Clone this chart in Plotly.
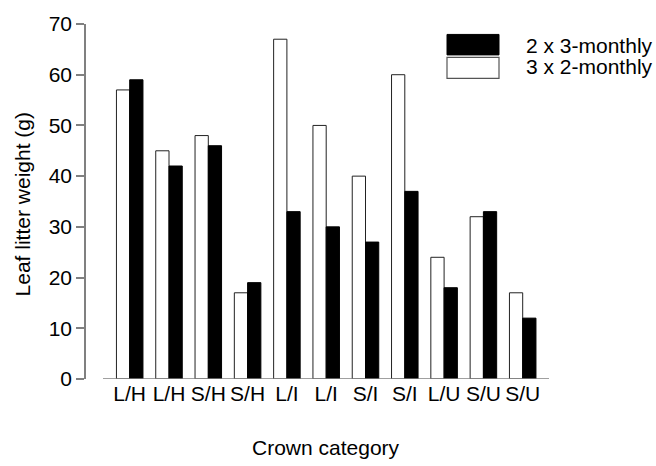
import plotly.graph_objects as go

# Crown categories and leaf litter weights (g) per sampling scheme
categories = ["L/H", "L/H", "S/H", "S/H", "L/I", "L/I", "S/I", "S/I", "L/U", "S/U", "S/U"]
three_by_two_monthly = [57, 45, 48, 17, 67, 50, 40, 60, 24, 32, 17]
two_by_three_monthly = [59, 42, 46, 19, 33, 30, 27, 37, 18, 33, 12]
y_ticks = [0, 10, 20, 30, 40, 50, 60, 70]

W, H = 656, 466
L, R, T, B = 86, 549, 15, 379  # plot area in pixels
FONT = "Liberation Sans, Arial, sans-serif"
FS = 21
GRAY = "#808080"

x_idx = list(range(len(categories)))
step = 39.3  # pixels per category
x0 = -(129.7 - L) / step
x1 = x0 + (R - L) / step


def px(x):
    return (x - L) / (R - L)


def py(y):
    return (B - y) / (B - T)


fig = go.Figure()
fig.add_trace(go.Bar(
    x=x_idx, y=three_by_two_monthly, name="3 x 2-monthly",
    marker=dict(color="white", line=dict(color="#222222", width=1)),
    showlegend=False,
))
fig.add_trace(go.Bar(
    x=x_idx, y=two_by_three_monthly, name="2 x 3-monthly",
    marker=dict(color="black", line=dict(color="black", width=1)),
    showlegend=False,
))

shapes = [
    # detached category axis line
    dict(type="line", xref="x", yref="y", x0=-(129.7 - 103) / step, x1=x1,
         y0=0, y1=0, line=dict(color=GRAY, width=1.5)),
    # legend swatches
    dict(type="rect", xref="paper", yref="paper", x0=px(447), x1=px(499),
         y0=py(46.7), y1=py(25.7), fillcolor="black", line=dict(color="black", width=1)),
    dict(type="rect", xref="paper", yref="paper", x0=px(447), x1=px(499),
         y0=py(70.7), y1=py(49.3), fillcolor="white", line=dict(color="#555555", width=1.2)),
]

annotations = [
    dict(text="2 x 3-monthly", xref="paper", yref="paper", x=px(524), y=py(37),
         xanchor="left", yanchor="middle", showarrow=False,
         font=dict(family=FONT, size=FS, color="black")),
    dict(text="3 x 2-monthly", xref="paper", yref="paper", x=px(524), y=py(59),
         xanchor="left", yanchor="middle", showarrow=False,
         font=dict(family=FONT, size=FS, color="black")),
    dict(text="Crown category", xref="paper", yref="paper", x=px(326), y=py(449),
         xanchor="center", yanchor="middle", showarrow=False,
         font=dict(family=FONT, size=FS, color="black")),
    dict(text="Leaf litter weight (g)", xref="paper", yref="paper", x=px(22), y=py(200),
         xanchor="center", yanchor="middle", showarrow=False, textangle=-90,
         font=dict(family=FONT, size=FS, color="black")),
]

fig.update_layout(
    width=W, height=H,
    margin=dict(l=L, r=W - R, t=T, b=H - B, pad=0),
    paper_bgcolor="white", plot_bgcolor="white",
    barmode="group", bargap=0.325, bargroupgap=0,
    font=dict(family=FONT, size=FS, color="black"),
    shapes=shapes, annotations=annotations,
    xaxis=dict(
        range=[x0, x1], tickmode="array", tickvals=x_idx, ticktext=categories,
        showline=False, showgrid=False, zeroline=False, ticks="",
        tickfont=dict(family=FONT, size=FS, color="black"),
    ),
    yaxis=dict(
        range=[0, 70], tickmode="array", tickvals=y_ticks,
        showline=True, linecolor=GRAY, linewidth=1.5,
        ticks="outside", ticklen=8, tickcolor=GRAY, tickwidth=1.5,
        showgrid=False, zeroline=False,
        tickfont=dict(family=FONT, size=FS, color="black"),
    ),
)

fig.write_html("out.html")
